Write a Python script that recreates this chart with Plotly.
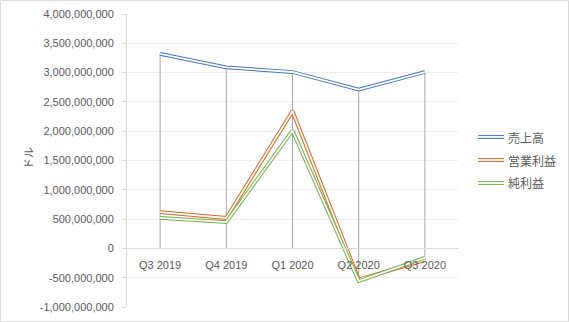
import plotly.graph_objects as go

# Quarterly figures (USD)
quarters = ["Q3 2019", "Q4 2019", "Q1 2020", "Q2 2020", "Q3 2020"]
revenue = [3.32e9, 3.09e9, 3.01e9, 2.71e9, 3.01e9]
operating_income = [0.62e9, 0.52e9, 2.34e9, -0.53e9, -0.20e9]
net_income = [0.52e9, 0.45e9, 2.01e9, -0.56e9, -0.16e9]

series_names = ["売上高", "営業利益", "純利益"]
series_values = [revenue, operating_income, net_income]
series_colors = ["#4472C4", "#D8661E", "#70AD47"]

y_ticks = [-1e9, -0.5e9, 0, 0.5e9, 1e9, 1.5e9, 2e9, 2.5e9, 3e9, 3.5e9, 4e9]
y_tick_text = [f"{v:,.0f}" for v in y_ticks]
y_range = [-1e9, 4e9]

W, H = 569, 322
M = dict(l=127, r=111, t=14, b=15, autoexpand=False)
PW = W - M["l"] - M["r"]
PH = H - M["t"] - M["b"]
OUTER_W, INNER_W = 3.8, 1.8


def px_x(px):
    return (px - M["l"]) / PW


def px_y(py):
    return (H - M["b"] - py) / PH


fig = go.Figure()

# Drop lines: from the highest point of each category down (or up) to the zero axis
drop_x, drop_y = [], []
for i, q in enumerate(quarters):
    vals = [s[i] for s in series_values]
    drop_x += [q, q, None]
    drop_y += [max(max(vals), 0), min(min(vals), 0), None]
fig.add_trace(go.Scatter(x=drop_x, y=drop_y, mode="lines",
                         line=dict(color="#A6A6A6", width=1),
                         showlegend=False, hoverinfo="skip"))

# Double-stroke lines: a coloured stroke with a thin white core
for name, vals, color in zip(series_names, series_values, series_colors):
    fig.add_trace(go.Scatter(x=quarters, y=vals, mode="lines", name=name,
                             showlegend=False,
                             line=dict(color=color, width=OUTER_W)))
    fig.add_trace(go.Scatter(x=quarters, y=vals, mode="lines",
                             showlegend=False,
                             line=dict(color="white", width=INNER_W),
                             hoverinfo="skip"))

# Legend drawn with the same double strokes
shapes = []
annotations = []
legend_rows = [137, 160, 183]
for name, color, row in zip(series_names, series_colors, legend_rows):
    for lc, lw in ((color, OUTER_W), ("white", INNER_W)):
        shapes.append(dict(type="line", xref="paper", yref="paper",
                           x0=px_x(478), x1=px_x(504), y0=px_y(row), y1=px_y(row),
                           line=dict(color=lc, width=lw)))
    annotations.append(dict(text=name, xref="paper", yref="paper",
                            x=px_x(506), y=px_y(row), xanchor="left", yanchor="middle",
                            showarrow=False,
                            font=dict(family="Noto Sans CJK JP, sans-serif", size=12,
                                      color="#595959")))

annotations.append(dict(
    text="ドル", textangle=-90,
    xref="paper", yref="paper",
    x=px_x(28), y=px_y(158),
    xanchor="center", yanchor="middle", showarrow=False,
    font=dict(family="Noto Sans CJK JP, sans-serif", size=11, color="#595959"),
))

# Chart area border
shapes.append(dict(
    type="rect", xref="paper", yref="paper", layer="above",
    x0=px_x(0.5), x1=px_x(W - 0.5), y0=px_y(H - 0.5), y1=px_y(0.5),
    line=dict(color="#D9D9D9", width=1),
))

fig.update_layout(
    width=W, height=H,
    margin=M,
    paper_bgcolor="white",
    plot_bgcolor="white",
    font=dict(family="Liberation Sans, Arial, sans-serif", size=11, color="#595959"),
    showlegend=False,
    xaxis=dict(
        type="category",
        range=[-0.5, len(quarters) - 0.5],
        anchor="free",
        position=(0 - y_range[0]) / (y_range[1] - y_range[0]),
        showline=True, linecolor="#D9D9D9", linewidth=1,
        showgrid=False, zeroline=False,
        ticks="", ticklabelstandoff=6,
        tickfont=dict(size=11, color="#595959"),
    ),
    yaxis=dict(
        range=y_range,
        tickvals=y_ticks, ticktext=y_tick_text,
        showgrid=True, gridcolor="#EFEFEF", gridwidth=1,
        zeroline=False,
        showline=True, linecolor="#D9D9D9", linewidth=1,
        ticks="outside", ticklen=4, tickcolor="#D9D9D9",
        ticklabelstandoff=6,
        tickfont=dict(size=11, color="#595959"),
    ),
    annotations=annotations,
    shapes=shapes,
)

fig.write_html("out.html")
